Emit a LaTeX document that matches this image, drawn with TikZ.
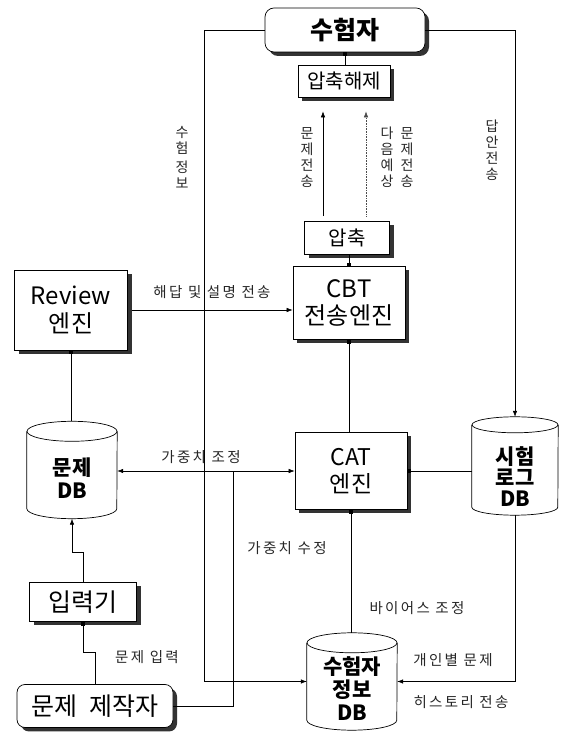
\documentclass[tikz,border=0pt]{standalone}
\usepackage{fontspec}
\setmainfont{Noto Sans CJK KR}
\usetikzlibrary{arrows.meta,shadows}
\newcommand{\drawcyl}[3]{%
  \draw[cyl] ([yshift=-#2pt]#1.north west) -- ([yshift=#2pt]#1.south west)
    arc[start angle=180, end angle=360, x radius=#3pt, y radius=#2pt]
    -- ([yshift=-#2pt]#1.north east);
  \draw[cyl] ([yshift=-#2pt]#1.north) ellipse [x radius=#3pt, y radius=#2pt];}
\begin{document}
\begin{tikzpicture}[x=1pt,y=1pt,
  box/.style={draw, fill=white, line width=0.7pt, inner sep=0pt, align=center,
    drop shadow={shadow xshift=4pt, shadow yshift=-4pt, fill=black!80, opacity=1}},
  dbn/.style={inner sep=0pt},
  dbtext/.style={inner sep=0pt, align=center, font=\fontsize{21}{23}\selectfont\bfseries},
  cyl/.style={line width=0.7pt},
  con/.style={line width=0.6pt},
  arr/.style={con, -{Latex[length=6pt,width=4.5pt]}},
  darr/.style={con, {Latex[length=6pt,width=4.5pt]}-{Latex[length=6pt,width=4.5pt]}},
  sq/.style={con, {Square[length=3.5pt,width=3.5pt]}-},
  lab/.style={font=\fontsize{14.5}{16}\selectfont\addfontfeature{LetterSpace=16}, inner sep=0pt, text=black!85},
  vlab/.style={font=\fontsize{14}{16}\selectfont, inner sep=0pt, align=center, text=black!85},
]
\useasboundingbox (0,0) rectangle (563,733);

% boxes
\node[box, rounded corners=9pt, minimum width=160pt, minimum height=44pt,
  font=\fontsize{25}{28}\selectfont\bfseries] (sh) at (345,703) {수험자};
\node[box, minimum width=92pt, minimum height=32pt,
  font=\fontsize{20}{22}\selectfont] (unz) at (344,652) {압축해제};
\node[box, minimum width=85pt, minimum height=33pt,
  font=\fontsize{20}{22}\selectfont] (zip) at (347,495) {압축};
\node[box, minimum width=112pt, minimum height=73pt,
  font=\fontsize{24}{27}\selectfont] (cbt) at (349,430) {CBT\\전송엔진};
\node[box, minimum width=113pt, minimum height=80pt,
  font=\fontsize{24}{28}\selectfont] (rev) at (71,423) {Review\\엔진};
\node[box, minimum width=112pt, minimum height=77pt,
  font=\fontsize{23}{27}\selectfont] (cat) at (351,262) {CAT\\엔진};
\node[box, minimum width=107pt, minimum height=39pt,
  font=\fontsize{25}{28}\selectfont] (inp) at (83,131) {입력기};
\node[box, rounded corners=8pt, minimum width=156pt, minimum height=43pt,
  font=\fontsize{25}{28}\selectfont] (maker) at (95,27) {문제\ \ 제작자};

% databases
\node[dbn, minimum width=90pt, minimum height=97pt] (qdb) at (72,263) {};
\node[dbn, minimum width=86pt, minimum height=98pt] (ldb) at (515,267) {};
\node[dbn, minimum width=90pt, minimum height=97pt] (udb) at (352,51.5) {};
\drawcyl{qdb}{10}{45}
\drawcyl{ldb}{8}{43}
\drawcyl{udb}{10}{45}
\node[dbtext] at ([yshift=-8pt]qdb.center) {문제\\DB};
\node[dbtext, font=\fontsize{21}{21}\selectfont\bfseries] at ([yshift=-11pt]ldb.center) {시험\\로그\\DB};
\node[dbtext] at ([yshift=-7pt]udb.center) {수험자\\정보\\DB};

\coordinate (jn) at (233,262);

% connectors
\draw[sq] (sh.south) -- (sh.south |- unz.north);
\draw[arr, shorten <=5pt, shorten >=14pt] ([xshift=-24pt]zip.north) -- ([xshift=-21pt]unz.south);
\draw[arr, densely dotted, black!70, shorten <=5pt, shorten >=14pt] ([xshift=19pt]zip.north) -- ([xshift=22pt]unz.south);
\draw[sq] (cbt.north) -- (cbt.north |- zip.south);
\draw[sq] (cbt.south) -- (cbt.south |- cat.north);
\draw[arr, shorten <=4pt] (rev.east) -- (rev.east -| cbt.west);
\draw[sq] (rev.south) -- (rev.south |- qdb.north);
\draw[darr] (qdb.east |- cat.west) -- (cat.west);
\draw[con] (maker.east) -| (jn);
\draw[con, -{Square[length=3.5pt,width=3.5pt]}] (maker.north) -- ++(0,32) -| (inp.south);
\draw[arr] (inp.north) -- ++(0,30) -| (qdb.south);
\draw[sq] (cat.east) -- (cat.east -| ldb.west);
\draw[sq] (cat.south) -- (cat.south |- udb.north);
\draw[arr] (ldb.south) |- (udb.east);
\draw[arr] (sh.west) -- ++(-60,0) |- (udb.west);
\draw[arr] (sh.east) -| (ldb.north);

% labels
\node[lab] at (212,441) {해답 및 설명 전송};
\node[lab] at (201,276) {가중치 조정};
\node[lab] at (287,185) {가중치 수정};
\node[lab] at (147,76) {문제 입력};
\node[lab] at (417,125) {바이어스 조정};
\node[lab] at (453,73) {개인별 문제};
\node[lab] at (461,31) {히스토리 전송};
\node[vlab] at (182,576) {수\\험\\[3pt]정\\보};
\node[vlab] at (307,575) {문\\제\\전\\송};
\node[vlab] at (387,576) {다\\음\\예\\상};
\node[vlab] at (407,575) {문\\제\\전\\송};
\node[vlab] at (492,583) {답\\안\\전\\송};
\end{tikzpicture}
\end{document}
